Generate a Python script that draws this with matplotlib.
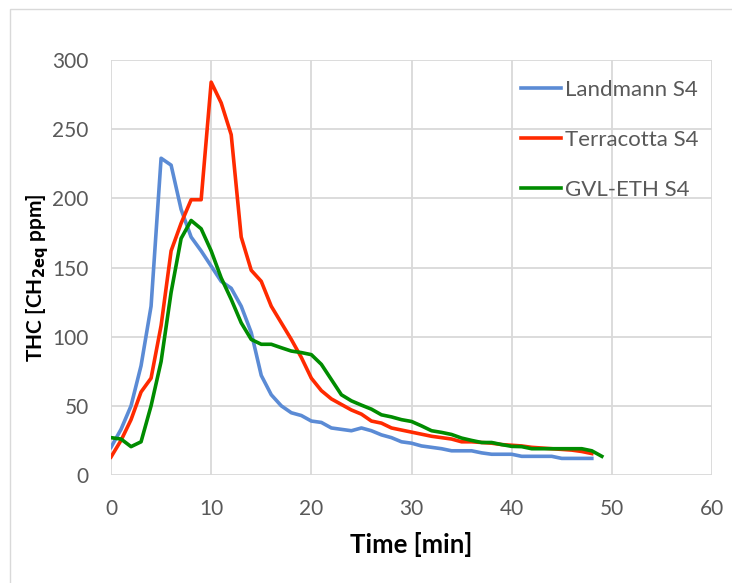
import matplotlib
matplotlib.use("Agg")
import matplotlib.pyplot as plt
from matplotlib.patches import Rectangle

plt.rcParams['font.family'] = ['Lato', 'DejaVu Sans']

t_land = list(range(0, 49))
landmann = [20, 33, 50, 79, 122, 229, 224, 192, 172, 162, 151, 140, 135, 122, 103, 72, 58, 50, 45, 43,
            39, 38, 34, 33, 32, 34, 32, 29, 27, 24, 23, 21, 20, 19, 17.5, 17.5, 17.5, 16, 15, 15,
            15, 13.5, 13.5, 13.5, 13.5, 12, 12, 12, 12]

t_terra = list(range(0, 49))
terracotta = [13, 25, 40, 60, 70, 108, 162, 182, 199, 199, 284, 269, 246, 172, 148, 140, 122, 110, 98, 85,
              70, 61, 55, 51, 47, 44, 39, 37.5, 34, 32.5, 31, 29.5, 28, 27, 26, 24, 24, 23.5, 23, 22,
              21.5, 21, 20, 19.5, 19, 18.5, 18, 17, 15.5]

t_gvl = list(range(0, 50))
gvl_eth = [27, 26, 20.5, 24, 50, 82, 132, 171, 184, 178, 162, 142.5, 127, 110, 98, 94.5, 94.5, 92, 89.6, 88.5,
           87, 80, 69, 58, 53.6, 50.5, 47.6, 43.5, 42, 40, 38.7, 35.5, 32, 30.8, 29.3, 26.7, 25, 23.5, 23.5, 22,
           20.7, 20.5, 19, 19, 19, 19, 19, 19, 17.5, 13.5]

series_names = ["Landmann S4", "Terracotta S4", "GVL-ETH S4"]
colors = ["#5B8BD5", "#FF2A00", "#008C00"]

fig = plt.figure(figsize=(7.32, 5.83), dpi=100)
fig.patches.append(Rectangle((10/732, -0.1), 1.2, 1 - 9/583 + 0.1, transform=fig.transFigure,
                             fill=False, edgecolor="#D9D9D9", linewidth=1.0))
ax = fig.add_axes([111/732, 1 - 475/583, (712 - 111)/732, (475 - 60)/583])

ax.plot(t_land, landmann, color=colors[0], lw=2.6, label=series_names[0], solid_joinstyle='round')
ax.plot(t_terra, terracotta, color=colors[1], lw=2.6, label=series_names[1], solid_joinstyle='round')
ax.plot(t_gvl, gvl_eth, color=colors[2], lw=2.6, label=series_names[2], solid_joinstyle='round')

ax.set_xlim(0, 60)
ax.set_ylim(0, 300)
ax.set_xticks(range(0, 61, 10))
ax.set_yticks(range(0, 301, 50))
ax.grid(True, color="#D9D9D9", lw=1.3)
ax.set_axisbelow(True)
for s in ax.spines.values():
    s.set_visible(False)
ax.tick_params(length=0, labelsize=15, colors="#595959")
ax.tick_params(axis='x', pad=17)
ax.tick_params(axis='y', pad=16)

ax.set_xlabel("Time [min]", fontsize=18.5, fontweight='bold')
ax.xaxis.set_label_coords(0.5, -0.138)
ax.set_ylabel(r"THC [CH$_{\mathbf{2eq}}$ ppm]", fontsize=15, fontweight='bold')
ax.yaxis.set_label_coords(-0.1, 0.475)

leg = ax.legend(loc='upper left', bbox_to_anchor=(0.682, 0.953), frameon=False, fontsize=16,
                borderaxespad=0, borderpad=0,
                handlelength=1.8, handletextpad=0.2, labelspacing=1.36, labelcolor="#595959")

fig.savefig("out.png", dpi=100)
